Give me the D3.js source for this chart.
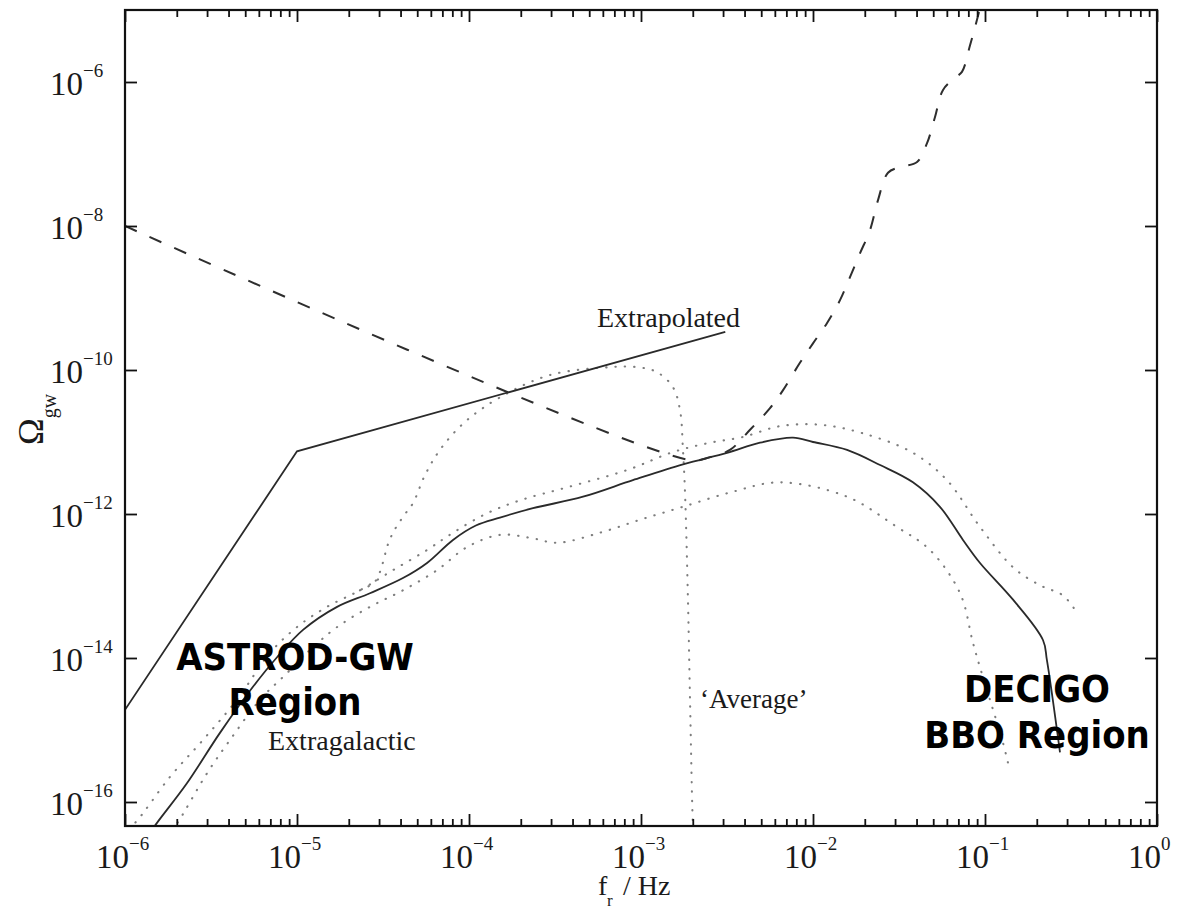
<!DOCTYPE html>
<html>
<head>
<meta charset="utf-8">
<script src="https://cdn.jsdelivr.net/npm/d3@7"></script>
<style>
  html, body { margin: 0; padding: 0; background: #fff; }
  svg { display: block; }
</style>
</head>
<body>
<script>
// Gravitational-wave background spectra, Omega_gw versus frequency.
// Every curve is a list of [log10 f / Hz, log10 Omega_gw] pairs.

const xTickExps = [-6, -5, -4, -3, -2, -1, 0];
const yTickExps = [-16, -14, -12, -10, -8, -6];

// extrapolated power-law background
const extrapolated = [
  [-6.00, -14.72], [-5.00, -11.13], [-2.51, -9.47]
];

// extragalactic background, central estimate
const extragalactic = [
  [-5.855, -16.43], [-5.814, -16.29], [-5.640, -15.74], [-5.448, -15.04],
  [-5.256, -14.40], [-5.116, -13.99], [-4.965, -13.61], [-4.767, -13.29],
  [-4.576, -13.10], [-4.384, -12.89], [-4.244, -12.68], [-4.093, -12.36],
  [-3.960, -12.16], [-3.820, -12.05], [-3.628, -11.92], [-3.337, -11.76],
  [-3.047, -11.53], [-2.756, -11.31], [-2.500, -11.15], [-2.308, -11.01],
  [-2.116, -10.94], [-2.000, -11.00], [-1.802, -11.11], [-1.610, -11.32],
  [-1.419, -11.56], [-1.262, -11.90], [-1.128, -12.36], [-1.029, -12.68],
  [-0.837, -13.19], [-0.663, -13.75], [-0.640, -14.03], [-0.564, -15.31]
];

// extragalactic background, upper bound
const extragalacticUpper = [
  [-5.983, -16.36], [-5.942, -16.29], [-5.738, -15.65], [-5.547, -15.14],
  [-5.349, -14.58], [-5.157, -13.93], [-5.000, -13.57], [-4.826, -13.29],
  [-4.634, -13.06], [-4.442, -12.78], [-4.244, -12.50], [-4.093, -12.26],
  [-3.895, -11.99], [-3.703, -11.81], [-3.430, -11.63], [-3.081, -11.39],
  [-2.814, -11.14], [-2.599, -11.01], [-2.407, -10.93], [-2.192, -10.78],
  [-1.959, -10.76], [-1.709, -10.88], [-1.419, -11.15], [-1.221, -11.53],
  [-1.029, -12.18], [-0.837, -12.74], [-0.680, -12.99], [-0.547, -13.13],
  [-0.477, -13.33]
];

// extragalactic background, lower bound
const extragalacticLower = [
  [-5.727, -16.39], [-5.692, -16.28], [-5.523, -15.60], [-5.390, -15.14],
  [-5.215, -14.58], [-5.058, -14.21], [-4.907, -13.85], [-4.767, -13.57],
  [-4.576, -13.29], [-4.384, -13.06], [-4.186, -12.78], [-4.012, -12.46],
  [-3.820, -12.29], [-3.645, -12.33], [-3.488, -12.40], [-3.238, -12.26],
  [-3.006, -12.08], [-2.756, -11.90], [-2.465, -11.69], [-2.192, -11.56],
  [-1.802, -11.76], [-1.512, -12.18], [-1.320, -12.50], [-1.145, -13.10],
  [-1.070, -13.79], [-1.029, -14.13], [-0.971, -14.58], [-0.895, -15.18],
  [-0.866, -15.46]
];

// 'average' galactic foreground
const average = [
  [-4.634, -13.06], [-4.547, -12.94], [-4.500, -12.67], [-4.477, -12.46],
  [-4.442, -12.26], [-4.384, -12.04], [-4.326, -11.85], [-4.256, -11.46],
  [-4.169, -11.11], [-4.023, -10.72], [-3.820, -10.38], [-3.529, -10.07],
  [-3.180, -9.96], [-3.023, -9.96], [-2.907, -10.03], [-2.814, -10.24],
  [-2.773, -10.56], [-2.756, -11.11], [-2.744, -11.71], [-2.727, -13.19],
  [-2.715, -14.58], [-2.698, -16.33], [-2.692, -16.53]
];

// detector sensitivity curve
const sensitivity = [
  [-6.000, -8.00], [-2.715, -11.25], [-2.599, -11.21], [-2.483, -11.11],
  [-2.366, -10.83], [-2.250, -10.53], [-2.174, -10.28], [-2.076, -9.90],
  [-2.000, -9.63], [-1.919, -9.35], [-1.843, -9.03], [-1.785, -8.71],
  [-1.727, -8.38], [-1.669, -8.06], [-1.622, -7.64], [-1.564, -7.26],
  [-1.494, -7.18], [-1.395, -7.11], [-1.337, -6.85], [-1.291, -6.49],
  [-1.244, -6.11], [-1.174, -5.94], [-1.134, -5.86], [-1.087, -5.49],
  [-1.047, -5.14], [-1.017, -4.86]
];

const W = 1178, H = 912;
const plot = { left: 125, right: 1157, top: 10, bottom: 826 };

const x = d3.scaleLog().domain([1e-6, 1]).range([plot.left, plot.right]);
const y = d3.scaleLog().domain([Math.pow(10, -16 - 1 / 3), 1e-5]).range([plot.bottom, plot.top]);

const svg = d3.select("body").append("svg")
  .attr("width", W).attr("height", H)
  .attr("viewBox", `0 0 ${W} ${H}`);

svg.append("defs").append("clipPath").attr("id", "plot-clip")
  .append("rect")
  .attr("x", plot.left).attr("y", plot.top)
  .attr("width", plot.right - plot.left).attr("height", plot.bottom - plot.top);

const serif = "'Liberation Serif', 'DejaVu Serif', serif";
const bold = "'DejaVu Sans', 'Liberation Sans', sans-serif";

const toPt = d => [x(Math.pow(10, d[0])), y(Math.pow(10, d[1]))];
const smooth = d3.line().x(d => toPt(d)[0]).y(d => toPt(d)[1]).curve(d3.curveCatmullRom.alpha(0.5));
const straight = d3.line().x(d => toPt(d)[0]).y(d => toPt(d)[1]);

const curves = svg.append("g").attr("clip-path", "url(#plot-clip)");

// dotted curves
[extragalacticUpper, extragalacticLower, average].forEach(data => {
  curves.append("path")
    .attr("d", smooth(data))
    .attr("fill", "none")
    .attr("stroke", "#7e7e7e")
    .attr("stroke-width", 2.1)
    .attr("stroke-linecap", "round")
    .attr("stroke-dasharray", "0.4,9");
});

// solid curves
curves.append("path")
  .attr("d", straight(extrapolated))
  .attr("fill", "none").attr("stroke", "#2a2a2a").attr("stroke-width", 1.8);

curves.append("path")
  .attr("d", smooth(extragalactic))
  .attr("fill", "none").attr("stroke", "#2a2a2a").attr("stroke-width", 1.8);

// dashed sensitivity curve
curves.append("path")
  .attr("d", smooth(sensitivity))
  .attr("fill", "none").attr("stroke", "#2e2e2e").attr("stroke-width", 2)
  .attr("stroke-dasharray", "13,14");

// ticks: major on every decade, minor on 2..9 (x only)
const xMinor = [];
for (let e = -6; e < 0; e++) for (let k = 2; k <= 9; k++) xMinor.push(k * Math.pow(10, e));
const xMajor = xTickExps.map(e => Math.pow(10, e));
const yMajor = yTickExps.map(e => Math.pow(10, e));

const axisStyle = g => {
  g.select(".domain").remove();
  g.selectAll(".tick line").attr("stroke", "#111").attr("stroke-width", 1.8);
  g.selectAll(".tick text").remove();
};

svg.append("g").attr("transform", `translate(0,${plot.bottom})`)
  .call(d3.axisBottom(x).tickValues(xMinor).tickSize(-7).tickFormat("")).call(axisStyle);
svg.append("g").attr("transform", `translate(0,${plot.bottom})`)
  .call(d3.axisBottom(x).tickValues(xMajor).tickSize(-12).tickFormat("")).call(axisStyle);
svg.append("g").attr("transform", `translate(0,${plot.top})`)
  .call(d3.axisTop(x).tickValues(xMinor).tickSize(-7).tickFormat("")).call(axisStyle);
svg.append("g").attr("transform", `translate(0,${plot.top})`)
  .call(d3.axisTop(x).tickValues(xMajor).tickSize(-12).tickFormat("")).call(axisStyle);
svg.append("g").attr("transform", `translate(${plot.left},0)`)
  .call(d3.axisLeft(y).tickValues(yMajor).tickSize(-12).tickFormat("")).call(axisStyle);
svg.append("g").attr("transform", `translate(${plot.right},0)`)
  .call(d3.axisRight(y).tickValues(yMajor).tickSize(-12).tickFormat("")).call(axisStyle);

// frame
svg.append("rect")
  .attr("x", plot.left).attr("y", plot.top)
  .attr("width", plot.right - plot.left).attr("height", plot.bottom - plot.top)
  .attr("fill", "none").attr("stroke", "#111").attr("stroke-width", 2.2);

const expText = e => (e < 0 ? "\u2212" + Math.abs(e) : String(e));

// x tick labels
xTickExps.forEach(e => {
  const t = svg.append("text")
    .attr("x", x(Math.pow(10, e)) - 29).attr("y", 868)
    .attr("font-family", serif).attr("font-size", 33).attr("fill", "#1a1a1a");
  t.append("tspan").text("10");
  t.append("tspan").attr("dy", -18).attr("font-size", 19).text(expText(e));
});

// y tick labels
yTickExps.forEach(e => {
  const yy = y(Math.pow(10, e));
  const t = svg.append("text")
    .attr("x", 50).attr("y", yy + 13)
    .attr("font-family", serif).attr("font-size", 33).attr("fill", "#1a1a1a");
  t.append("tspan").text("10");
  t.append("tspan").attr("dy", -18).attr("font-size", 19).text(expText(e));
});

// axis titles
const yTitle = svg.append("text")
  .attr("transform", "translate(43,445) rotate(-90)")
  .attr("font-family", serif).attr("font-size", 36).attr("fill", "#1a1a1a");
yTitle.append("tspan").text("\u03A9");
yTitle.append("tspan").attr("dy", 13).attr("font-size", 20).text("gw");

const xTitle = svg.append("g").attr("font-family", serif).attr("fill", "#1a1a1a");
xTitle.append("text").attr("x", 598).attr("y", 895).attr("font-size", 28).text("f");
xTitle.append("text").attr("x", 607).attr("y", 906).attr("font-size", 17).text("r");
xTitle.append("text").attr("x", 623).attr("y", 895).attr("font-size", 28).text("/ Hz");

// curve annotations
const note = (tx, ty, s) => svg.append("text")
  .attr("x", tx).attr("y", ty)
  .attr("font-family", serif).attr("font-size", 28).attr("fill", "#1a1a1a").text(s);
note(597, 327, "Extrapolated");
note(268, 750, "Extragalactic");
svg.append("text").attr("x", 700).attr("y", 708)
  .attr("font-family", serif).attr("font-size", 27).attr("fill", "#1a1a1a")
  .text("\u2018Average\u2019");

// detector regions
const region = (cx, cy, s) => svg.append("text")
  .attr("transform", `translate(${cx},${cy}) scale(0.92,1)`)
  .attr("text-anchor", "middle")
  .attr("font-family", bold).attr("font-weight", "bold").attr("font-size", 37)
  .attr("fill", "#000").text(s);
region(295, 670, "ASTROD-GW");
region(295, 715, "Region");
region(1037, 702, "DECIGO");
region(1037, 748, "BBO Region");
</script>
</body>
</html>
